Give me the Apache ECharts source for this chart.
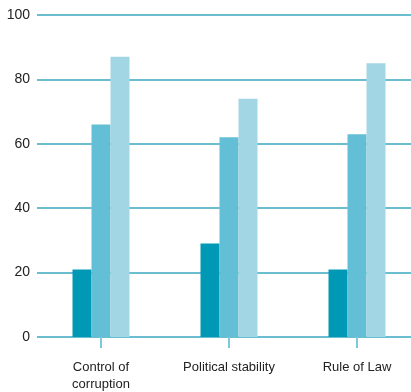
<!DOCTYPE html>
<html>
<head>
<meta charset="utf-8">
<script src="https://cdn.jsdelivr.net/npm/echarts@6/dist/echarts.min.js"></script>
<style>
  html, body { margin: 0; padding: 0; background: #fff; }
  #main { width: 411px; height: 392px; }
</style>
</head>
<body>
<div id="main"></div>
<script>
var categories = ['Control of\ncorruption', 'Political stability', 'Rule of Law'];
var seriesA = [21, 29, 21];
var seriesB = [66, 62, 63];
var seriesC = [87, 74, 85];
var yTicks = { min: 0, max: 100, interval: 20 };

var colors = ['#0099b5', '#62bfd6', '#a3d6e4'];
var font = 'Liberation Sans, Arial, sans-serif';

function bar(data, i) {
  return {
    type: 'bar',
    data: data,
    barWidth: 19,
    barGap: 0,
    itemStyle: { color: colors[i] },
    silent: true
  };
}

var chart = echarts.init(document.getElementById('main'));
chart.setOption({
  animation: false,
  grid: { left: 37, width: 384, top: 15, height: 322, outerBoundsMode: 'none', containLabel: false },
  xAxis: {
    type: 'category',
    data: categories,
    axisLine: { show: false },
    axisTick: { show: true, alignWithLabel: true, length: 11, lineStyle: { color: '#7cc9da', width: 2 } },
    axisLabel: { color: '#222', fontFamily: font, fontSize: 13, margin: 22, lineHeight: 17, interval: 0 }
  },
  yAxis: {
    type: 'value',
    min: yTicks.min,
    max: yTicks.max,
    interval: yTicks.interval,
    axisLine: { show: false },
    axisTick: { show: false },
    axisLabel: { color: '#222', fontFamily: font, fontSize: 14, margin: 7 },
    splitLine: { lineStyle: { color: '#3aa9c0', width: 1.5 } }
  },
  series: [bar(seriesA, 0), bar(seriesB, 1), bar(seriesC, 2)]
});
</script>
</body>
</html>
